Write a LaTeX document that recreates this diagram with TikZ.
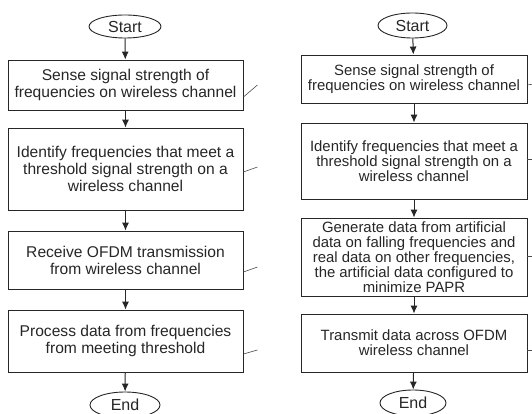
\documentclass[tikz,border=0pt]{standalone}
\usepackage{fontspec}
\setmainfont{Liberation Sans}
\usepackage{tikz}
\usetikzlibrary{arrows.meta, positioning, shapes.geometric}

\begin{document}
\begin{tikzpicture}[
    x=1pt, y=-1pt,
    every node/.style={draw=black!85, line width=0.9pt, text=black!85, align=center},
    stepbox/.style={rectangle, minimum width=235pt, inner sep=1pt, font=\fontsize{15.6}{17}\selectfont},
    stepboxr/.style={rectangle, minimum width=226pt, inner sep=1pt, font=\fontsize{14.9}{15}\selectfont},
    term/.style={ellipse, inner sep=0pt, font=\fontsize{16}{16}\selectfont},
    arrow/.style={-{Latex[length=8pt, width=7pt]}, line width=1pt, black!85},
    lead/.style={line width=0.6pt, black!70}
]
\useasboundingbox (0,0) rectangle (532,414);

% Left flow
\node[term, minimum width=72pt, minimum height=23pt] (startl) at (125,26.5) {Start};
\node[stepbox, minimum height=50pt] (sensel) at (125.5,85) {Sense signal strength of\\frequencies on wireless channel};
\node[stepbox, minimum height=82pt] (identl) at (125.5,169) {Identify frequencies that meet a\\threshold signal strength on a\\wireless channel};
\node[stepbox, minimum height=58pt] (recv) at (125.5,260) {Receive OFDM transmission\\from wireless channel};
\node[stepbox, minimum height=62pt] (proc) at (125.5,341) {Process data from frequencies\\from meeting threshold};
\node[term, minimum width=70pt, minimum height=26pt] (endl) at (125,405) {End};

% Right flow
\node[term, minimum width=69pt, minimum height=25pt] (startr) at (412.5,25.5) {Start};
\node[stepboxr, minimum height=48pt] (senser) at (414,79) {Sense signal strength of\\frequencies on wireless channel};
\node[stepboxr, minimum height=76pt] (identr) at (414,161) {Identify frequencies that meet a\\threshold signal strength on a\\wireless channel};
\node[stepboxr, minimum height=78pt] (gen) at (414,257) {Generate data from artificial\\data on falling frequencies and\\real data on other frequencies,\\the artificial data configured to\\minimize PAPR};
\node[stepboxr, minimum height=58pt] (trans) at (414,343) {Transmit data across OFDM\\wireless channel};
\node[term, minimum width=66pt, minimum height=26pt] (endr) at (413,403) {End};

% Edges
\draw[arrow] (startl) -- (sensel);
\draw[arrow] (sensel) -- (identl);
\draw[arrow] (identl) -- (recv);
\draw[arrow] (recv) -- (proc);
\draw[arrow] (proc) -- (endl);
\draw[arrow] (startr) -- (senser);
\draw[arrow] (senser) -- (identr);
\draw[arrow] (identr) -- (gen);
\draw[arrow] (gen) -- (trans);
\draw[arrow] (trans) -- (endr);

% Leader ticks
\draw[lead] ([yshift=-12pt]sensel.east) -- ++(14,-12);
\draw[lead] ([yshift=-3pt]identl.east) -- ++(14,-5);
\draw[lead] ([yshift=-12pt]recv.east) -- ++(14,-5);
\draw[lead] ([yshift=-13pt]proc.east) -- ++(14,-4);
\draw[lead] ([yshift=-6pt]senser.east) -- ++(6,-1);
\draw[lead] ([yshift=2pt]identr.east) -- ++(6,0);
\draw[lead] ([yshift=1pt]gen.east) -- ++(6,0);
\draw[lead] ([yshift=-7pt]trans.east) -- ++(6,0);

\end{tikzpicture}
\end{document}
